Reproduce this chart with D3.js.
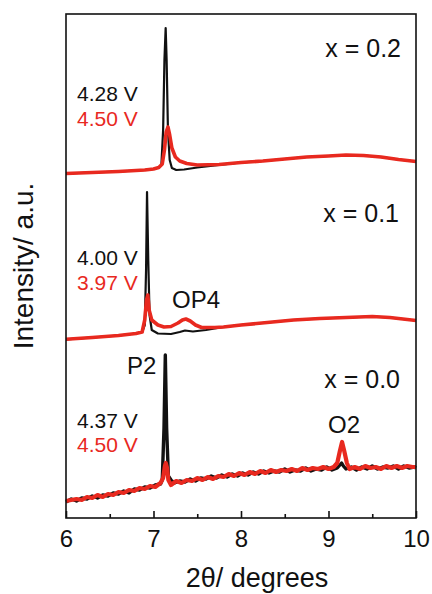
<!DOCTYPE html>
<html>
<head>
<meta charset="utf-8">
<script src="https://cdn.jsdelivr.net/npm/d3@7"></script>
<style>
  html, body { margin: 0; padding: 0; background: #fff; }
  svg text { font-family: "Liberation Sans", Arial, sans-serif; }
</style>
</head>
<body>
<div id="chart"></div>
<script>
// x = 0.2 (top trace), values are intensity in a.u. (shifted stack)
var blk02 = [[6.00,344.5],[6.30,345.5],[6.60,346.5],[6.90,348],[7.00,349],[7.06,350.5],[7.09,353],[7.11,388],[7.125,458],[7.139,490],[7.15,458],[7.165,388],[7.185,358],[7.21,350],[7.26,348],[7.35,348.5],[7.50,350.5],[7.75,353],[8.00,355.5],[8.25,357],[8.50,359],[8.75,361],[9.00,362],[9.20,363],[9.40,362.5],[9.60,361],[9.80,358.5],[10.0,356.5]];
var red02 = [[6.00,344.5],[6.30,345.5],[6.60,346.5],[6.90,348],[7.00,349],[7.06,350.5],[7.10,354],[7.125,368],[7.145,386],[7.165,391],[7.185,383],[7.21,370],[7.25,361],[7.30,357],[7.38,354.5],[7.50,353],[7.75,353.5],[8.00,355.5],[8.25,357],[8.50,359],[8.75,361],[9.00,362],[9.20,363],[9.40,362.5],[9.60,361],[9.80,358.5],[10.0,356.5]];

// x = 0.1
var blk01 = [[6.00,178.7],[6.30,180.5],[6.60,182.5],[6.80,184.5],[6.87,186],[6.90,193],[6.915,248],[6.926,326],[6.94,258],[6.955,203],[6.98,188],[7.05,184.5],[7.20,184],[7.30,186],[7.36,187.5],[7.45,186.5],[7.60,188],[7.80,191],[8.00,193],[8.30,195.5],[8.60,198],[8.90,199.5],[9.20,200.5],[9.50,201.5],[9.70,200.5],[9.90,198.5],[10.0,197.5]];
var red01 = [[6.00,178.7],[6.30,180.5],[6.60,182.5],[6.80,184.5],[6.87,186],[6.90,198],[6.92,218],[6.935,223],[6.95,208],[6.98,198],[7.05,193],[7.12,191],[7.20,191.5],[7.28,195],[7.33,198],[7.37,199],[7.42,197],[7.48,193],[7.55,190.5],[7.70,190.5],[7.80,191],[8.00,193],[8.30,195.5],[8.60,198],[8.90,199.5],[9.20,200.5],[9.50,201.5],[9.70,200.5],[9.90,198.5],[10.0,197.5]];

// x = 0.0
var blk00 = [[6.00,16],[6.06,19],[6.12,17],[6.18,20],[6.24,19],[6.30,22],[6.36,20],[6.42,23],[6.48,22],[6.54,25],[6.60,24],[6.66,27],[6.72,25],[6.78,29],[6.84,28],[6.90,31],[6.96,30],[7.02,33],[7.08,34],[7.10,38],[7.12,90],[7.135,163],[7.15,90],[7.17,42],[7.20,38],[7.24,35],[7.30,37],[7.36,36],[7.42,39],[7.48,37],[7.54,40],[7.60,39],[7.66,42],[7.72,40],[7.78,43],[7.84,41],[7.90,44],[7.96,42],[8.02,45],[8.08,43],[8.14,46],[8.20,44],[8.26,47],[8.32,45],[8.38,47],[8.44,46],[8.50,49],[8.56,46],[8.62,48],[8.68,47],[8.74,50],[8.80,47],[8.86,49],[8.92,48],[8.98,51],[9.04,48],[9.10,50],[9.13,53],[9.15,55],[9.17,52],[9.20,49],[9.26,51],[9.32,48],[9.38,51],[9.44,49],[9.50,52],[9.56,49],[9.62,51],[9.68,50],[9.74,52],[9.80,49],[9.86,52],[9.92,50],[9.98,51],[10.0,50]];
var red00 = [[6.00,17],[6.06,18],[6.12,19],[6.18,18],[6.24,21],[6.30,20],[6.36,23],[6.42,21],[6.48,24],[6.54,23],[6.60,26],[6.66,25],[6.72,28],[6.78,27],[6.84,30],[6.90,29],[6.96,32],[7.02,31],[7.08,35],[7.11,40],[7.13,52],[7.14,55],[7.155,50],[7.17,38],[7.20,33],[7.26,37],[7.32,35],[7.38,38],[7.44,37],[7.50,40],[7.56,38],[7.62,41],[7.68,39],[7.74,42],[7.80,41],[7.86,44],[7.92,42],[7.98,45],[8.04,43],[8.10,46],[8.16,44],[8.22,47],[8.28,45],[8.34,48],[8.40,46],[8.46,48],[8.52,47],[8.58,49],[8.64,47],[8.70,50],[8.76,48],[8.82,50],[8.88,49],[8.94,51],[9.00,49],[9.06,51],[9.10,55],[9.13,67],[9.155,76],[9.18,67],[9.21,55],[9.24,49],[9.30,51],[9.36,49],[9.42,52],[9.48,50],[9.54,51],[9.60,49],[9.66,52],[9.72,50],[9.78,52],[9.84,50],[9.90,52],[9.96,51],[10.0,51]];

var xTicks = [6, 7, 8, 9, 10];
var xMinor = [6.5, 7.5, 8.5, 9.5];

var RED = "#e8291f";
var width = 432, height = 594;
var margin = {top: 14, right: 16, bottom: 76, left: 66};

var svg = d3.select("#chart").append("svg")
    .attr("width", width)
    .attr("height", height);

var x = d3.scaleLinear().domain([6, 10]).range([margin.left, width - margin.right]);
var y = d3.scaleLinear().domain([0, 504]).range([height - margin.bottom, margin.top]);

var line = d3.line()
    .x(function(d) { return x(d[0]); })
    .y(function(d) { return y(d[1]); });

var plot = svg.append("g");

// black first, red on top
[[blk02, red02, 2.2, 3.6], [blk01, red01, 2.2, 3.6], [blk00, red00, 3.4, 4.2]].forEach(function(p) {
  plot.append("path").datum(p[0])
      .attr("fill", "none").attr("stroke", "#111")
      .attr("stroke-width", p[2]).attr("stroke-linejoin", "round")
      .attr("d", line);
  plot.append("path").datum(p[1])
      .attr("fill", "none").attr("stroke", RED)
      .attr("stroke-width", p[3]).attr("stroke-linejoin", "round")
      .attr("d", line);
});

// frame
svg.append("rect")
    .attr("x", margin.left).attr("y", margin.top)
    .attr("width", width - margin.left - margin.right)
    .attr("height", height - margin.top - margin.bottom)
    .attr("fill", "none").attr("stroke", "#111").attr("stroke-width", 1.6);

// bottom axis, ticks pointing inward
var gx = svg.append("g")
    .attr("transform", "translate(0," + (height - margin.bottom) + ")")
    .call(d3.axisBottom(x).tickValues(xTicks).tickSize(-7).tickPadding(12).tickFormat(d3.format("d")));
gx.select(".domain").remove();
gx.selectAll("line").attr("stroke", "#111").attr("stroke-width", 1.6);
gx.selectAll("text").attr("fill", "#111").style("font-size", "24px");

var gm = svg.append("g")
    .attr("transform", "translate(0," + (height - margin.bottom) + ")")
    .call(d3.axisBottom(x).tickValues(xMinor).tickSize(-4).tickFormat(""));
gm.select(".domain").remove();
gm.selectAll("line").attr("stroke", "#111").attr("stroke-width", 1.6);

// axis titles
svg.append("text")
    .attr("x", 257).attr("y", 587)
    .attr("text-anchor", "middle")
    .style("font-size", "27px").attr("fill", "#111")
    .text("2θ/ degrees");

svg.append("text")
    .attr("transform", "translate(33,266) rotate(-90)")
    .attr("text-anchor", "middle")
    .style("font-size", "28px").attr("fill", "#111")
    .text("Intensity/ a.u.");

// annotations
function note(tx, ty, str, color, size, anchor) {
  svg.append("text")
      .attr("x", tx).attr("y", ty)
      .attr("text-anchor", anchor || "start")
      .style("font-size", size + "px")
      .attr("fill", color)
      .text(str);
}

note(401, 57, "x = 0.2", "#111", 25, "end");
note(399, 222, "x = 0.1", "#111", 25, "end");
note(400, 388, "x = 0.0", "#111", 25, "end");

note(77, 101, "4.28 V", "#111", 21);
note(77, 126, "4.50 V", RED, 21);
note(77, 265, "4.00 V", "#111", 21);
note(77, 290, "3.97 V", RED, 21);
note(77, 428, "4.37 V", "#111", 21);
note(77, 452, "4.50 V", RED, 21);

note(172, 308, "OP4", "#111", 24);
note(127, 374, "P2", "#111", 24);
note(328, 433, "O2", "#111", 24);
</script>
</body>
</html>
